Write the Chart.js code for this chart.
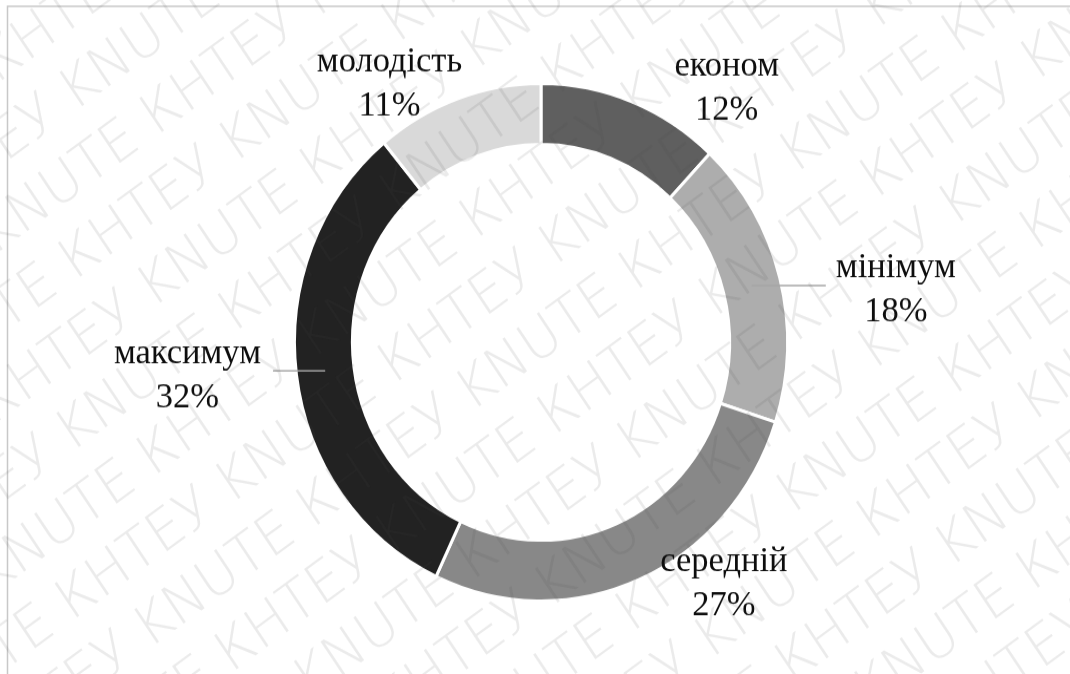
<!DOCTYPE html>
<html>
<head>
<meta charset="utf-8">
<script src="https://cdn.jsdelivr.net/npm/chart.js@4"></script>
<style>
  html, body { margin: 0; padding: 0; background: #fff; width: 1070px; height: 674px; overflow: hidden; }
  /* the figure is slightly taller than wide, so the whole canvas is stretched a bit */
  #wrap { width: 1070px; height: 642px; transform: scaleY(1.0498); transform-origin: 0 0; }
</style>
</head>
<body>
<div id="wrap"><canvas id="chart" width="1070" height="642"></canvas></div>
<script>
const categories = ['економ', 'мінімум', 'середній', 'максимум', 'молодість']
const shares = [12, 18, 27, 32, 11]
const sliceColors = ['#5f5f5f', '#adadad', '#888888', '#222222', '#d9d9d9']

// where each two-line label sits, relative to the outer middle of its slice
const labelOffsets = [[95, -25], [116, -1], [85, -8], [-109, -11], [-68, -26]]
const leaderLines = [false, true, false, true, false]

const LABEL_FONT = '34.5px "Liberation Serif", "Times New Roman", serif'
const LINE_GAP = 42

// thin frame along the top and left edge
const frame = {
  id: 'frame',
  beforeDraw(chart) {
    const ctx = chart.ctx
    ctx.save()
    ctx.strokeStyle = '#c8c8c8'
    ctx.lineWidth = 1.5
    ctx.beginPath()
    ctx.moveTo(7.5, chart.height)
    ctx.lineTo(7.5, 6)
    ctx.lineTo(chart.width, 6)
    ctx.stroke()
    ctx.restore()
  }
}

// category name + percentage outside each slice, with leader lines for the side ones
const sliceLabels = {
  id: 'sliceLabels',
  afterDatasetsDraw(chart) {
    const ctx = chart.ctx
    const meta = chart.getDatasetMeta(0)
    ctx.save()
    ctx.font = LABEL_FONT
    ctx.textAlign = 'center'
    ctx.textBaseline = 'alphabetic'
    meta.data.forEach((arc, i) => {
      const { x, y, startAngle, endAngle, outerRadius, innerRadius } = arc.getProps(
        ['x', 'y', 'startAngle', 'endAngle', 'outerRadius', 'innerRadius'], true)
      const mid = (startAngle + endAngle) / 2
      const ox = x + Math.cos(mid) * outerRadius
      const oy = y + Math.sin(mid) * outerRadius
      const [dx, dy] = labelOffsets[i]
      const lx = ox + dx
      const ly = oy + dy

      if (leaderLines[i]) {
        const rMid = (outerRadius + innerRadius) / 2
        const sx = x + Math.cos(mid) * rMid
        const sy = y + Math.sin(mid) * rMid
        const halfW = ctx.measureText(categories[i]).width / 2
        const ex = dx > 0 ? lx - halfW - 10 : lx + halfW + 12
        ctx.strokeStyle = '#a6a6a6'
        ctx.lineWidth = 1.5
        ctx.beginPath()
        ctx.moveTo(sx, sy)
        ctx.lineTo(ex, sy)
        ctx.stroke()
      }

      ctx.fillStyle = '#0d0d0d'
      ctx.fillText(categories[i], lx, ly)
      ctx.fillText(shares[i] + '%', lx, ly + LINE_GAP)
    })
    ctx.restore()
  }
}

// faint diagonal "КНТЕУ KNUTE" pattern laid over the whole figure
const watermark = {
  id: 'watermark',
  afterDraw(chart) {
    const ctx = chart.ctx
    ctx.save()
    ctx.font = '200 54px "DejaVu Sans", sans-serif'
    ctx.fillStyle = 'rgba(75, 75, 75, 0.11)'
    ctx.textBaseline = 'alphabetic'
    ctx.translate(0, chart.height)
    ctx.rotate(-35 * Math.PI / 180)
    const word = 'КНТЕУ KNUTE '
    const w = ctx.measureText(word).width
    const text = word.repeat(10)
    for (let row = -18; row < 12; row++) {
      const shift = ((row * 0.37) % 1) * w
      ctx.fillText(text, -700 - shift, row * 66)
    }
    ctx.restore()
  }
}

new Chart(document.getElementById('chart'), {
  type: 'doughnut',
  data: {
    labels: categories,
    datasets: [
      {
        data: shares,
        backgroundColor: sliceColors,
        borderColor: '#ffffff',
        borderWidth: 3,
        hoverOffset: 0
      }
    ]
  },
  options: {
    responsive: false,
    animation: false,
    cutout: '76.5%',
    layout: {
      padding: { top: 78, bottom: 68, left: 293, right: 281 }
    },
    plugins: {
      legend: { display: false },
      tooltip: { enabled: false }
    }
  },
  plugins: [frame, sliceLabels, watermark]
})
</script>
</body>
</html>
